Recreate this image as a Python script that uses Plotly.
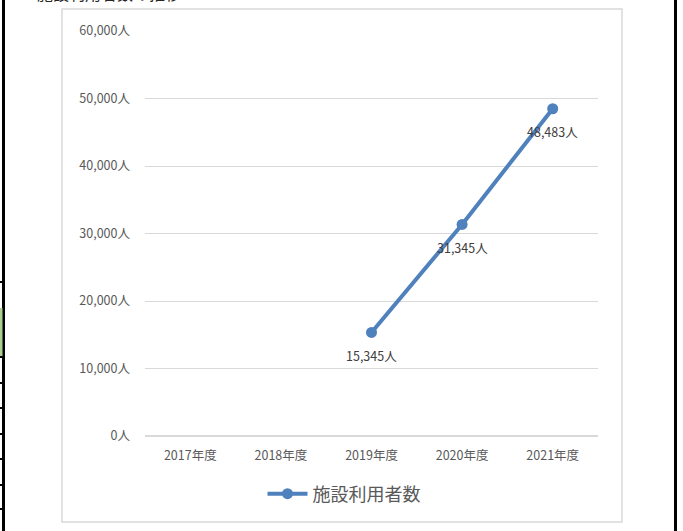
import plotly.graph_objects as go

categories = ["2017年度", "2018年度", "2019年度", "2020年度", "2021年度"]
users = [None, None, 15345, 31345, 48483]
series_name = "施設利用者数"
y_ticks = [0, 10000, 20000, 30000, 40000, 50000, 60000]

W, H = 683, 531
L, R, T, B = 145, 85, 31, 95
pw, ph = W - L - R, H - T - B

def px(x):
    return (x - L) / pw

def py(y):
    return (H - B - y) / ph

fig = go.Figure()
fig.add_trace(go.Scatter(
    x=categories, y=users, name=series_name,
    mode="lines+markers",
    line=dict(color="#4F81BD", width=4),
    marker=dict(color="#4F81BD", size=11),
    connectgaps=False,
))

annotations = []
for c, v in zip(categories, users):
    if v is None:
        continue
    annotations.append(dict(x=c, y=v, xref="x", yref="y", text=f"{v:,}人",
                            showarrow=False, yshift=-23,
                            font=dict(size=12.5, color="#404040")))
annotations.append(dict(text="施設利用者数の推移", xref="paper", yref="paper",
                        x=px(35), y=py(-7), xanchor="left", yanchor="middle",
                        showarrow=False, font=dict(size=16, color="#262626")))

shapes = [
    dict(type="rect", xref="paper", yref="paper",
         x0=px(62), x1=px(622), y0=py(522), y1=py(9),
         line=dict(color="#D9D9D9", width=1.5), layer="below"),
    dict(type="line", xref="paper", yref="paper",
         x0=px(3.5), x1=px(3.5), y0=py(531), y1=py(0),
         line=dict(color="#000000", width=3)),
    dict(type="line", xref="paper", yref="paper",
         x0=px(675.5), x1=px(675.5), y0=py(531), y1=py(0),
         line=dict(color="#000000", width=3)),
    dict(type="rect", xref="paper", yref="paper",
         x0=px(0), x1=px(2.5), y0=py(357), y1=py(308),
         line=dict(width=0), fillcolor="#A9D08E"),
]
for yy in [282, 357, 383, 408, 434, 459, 485, 509]:
    shapes.append(dict(type="line", xref="paper", yref="paper",
                       x0=px(0), x1=px(3), y0=py(yy), y1=py(yy),
                       line=dict(color="#000000", width=2)))

fig.update_layout(
    width=W, height=H,
    margin=dict(l=L, r=R, t=T, b=B),
    paper_bgcolor="white", plot_bgcolor="white",
    font=dict(family="Noto Sans CJK JP", color="#595959", size=12),
    showlegend=True,
    legend=dict(orientation="h", x=px(344), xanchor="center",
                y=py(494), yanchor="middle",
                font=dict(size=18, color="#595959"),
                itemwidth=40),
    xaxis=dict(type="category", range=[-0.5, 4.5], showgrid=False,
               showline=False, ticks="", zeroline=False,
               ticklabelstandoff=10,
               tickfont=dict(size=12.5, color="#595959")),
    yaxis=dict(range=[0, 60000], tickmode="array", tickvals=y_ticks,
               ticktext=[f"{v:,}人" for v in y_ticks],
               showgrid=True, gridcolor="#D9D9D9",
               gridwidth=1, zeroline=True, zerolinecolor="#D9D9D9",
               showline=False, ticks="", ticklabelstandoff=14,
               tickfont=dict(size=12.5, color="#595959")),
    shapes=shapes,
    annotations=annotations,
)

fig.write_html("out.html")
